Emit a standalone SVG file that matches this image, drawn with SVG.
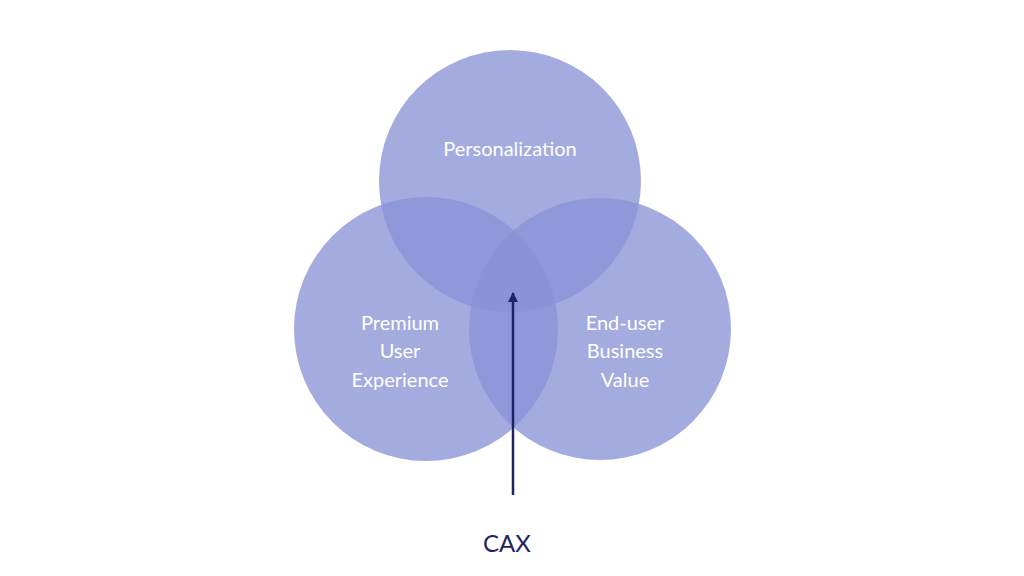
<svg xmlns="http://www.w3.org/2000/svg" width="1024" height="576" viewBox="0 0 1024 576">
<style>
.c{fill:#8992d6;fill-opacity:0.77}
.t{font-family:Lato,"Liberation Sans",sans-serif;font-size:20px;fill:#ffffff;text-anchor:middle}
</style>
<defs><marker id="ah" viewBox="0 0 10 10" refX="9" refY="5" markerWidth="4" markerHeight="4" orient="auto"><path d="M0,0 L10,5 L0,10 Z" fill="#1d2466"/></marker></defs>
<rect width="1024" height="576" fill="#ffffff"/>
<g id="personalization"><circle class="c" cx="510" cy="181" r="131"/><text class="t" x="510" y="156">Personalization</text></g>
<g id="premium"><circle class="c" cx="426" cy="329" r="132"/><text class="t" x="400" y="330">Premium</text><text class="t" x="400" y="358">User</text><text class="t" x="400" y="387">Experience</text></g>
<g id="enduser"><circle class="c" cx="600" cy="329" r="131"/><text class="t" x="625" y="330">End-user</text><text class="t" x="625" y="358">Business</text><text class="t" x="625" y="387">Value</text></g>
<g id="connectors"><line x1="513" y1="495" x2="513" y2="293" stroke="#1d2466" stroke-width="2.5" marker-end="url(#ah)"/></g>
<g id="cax"><text x="507" y="552" font-family="Lato,'Liberation Sans',sans-serif" font-size="24" fill="#1d2466" text-anchor="middle">CAX</text></g>
</svg>
